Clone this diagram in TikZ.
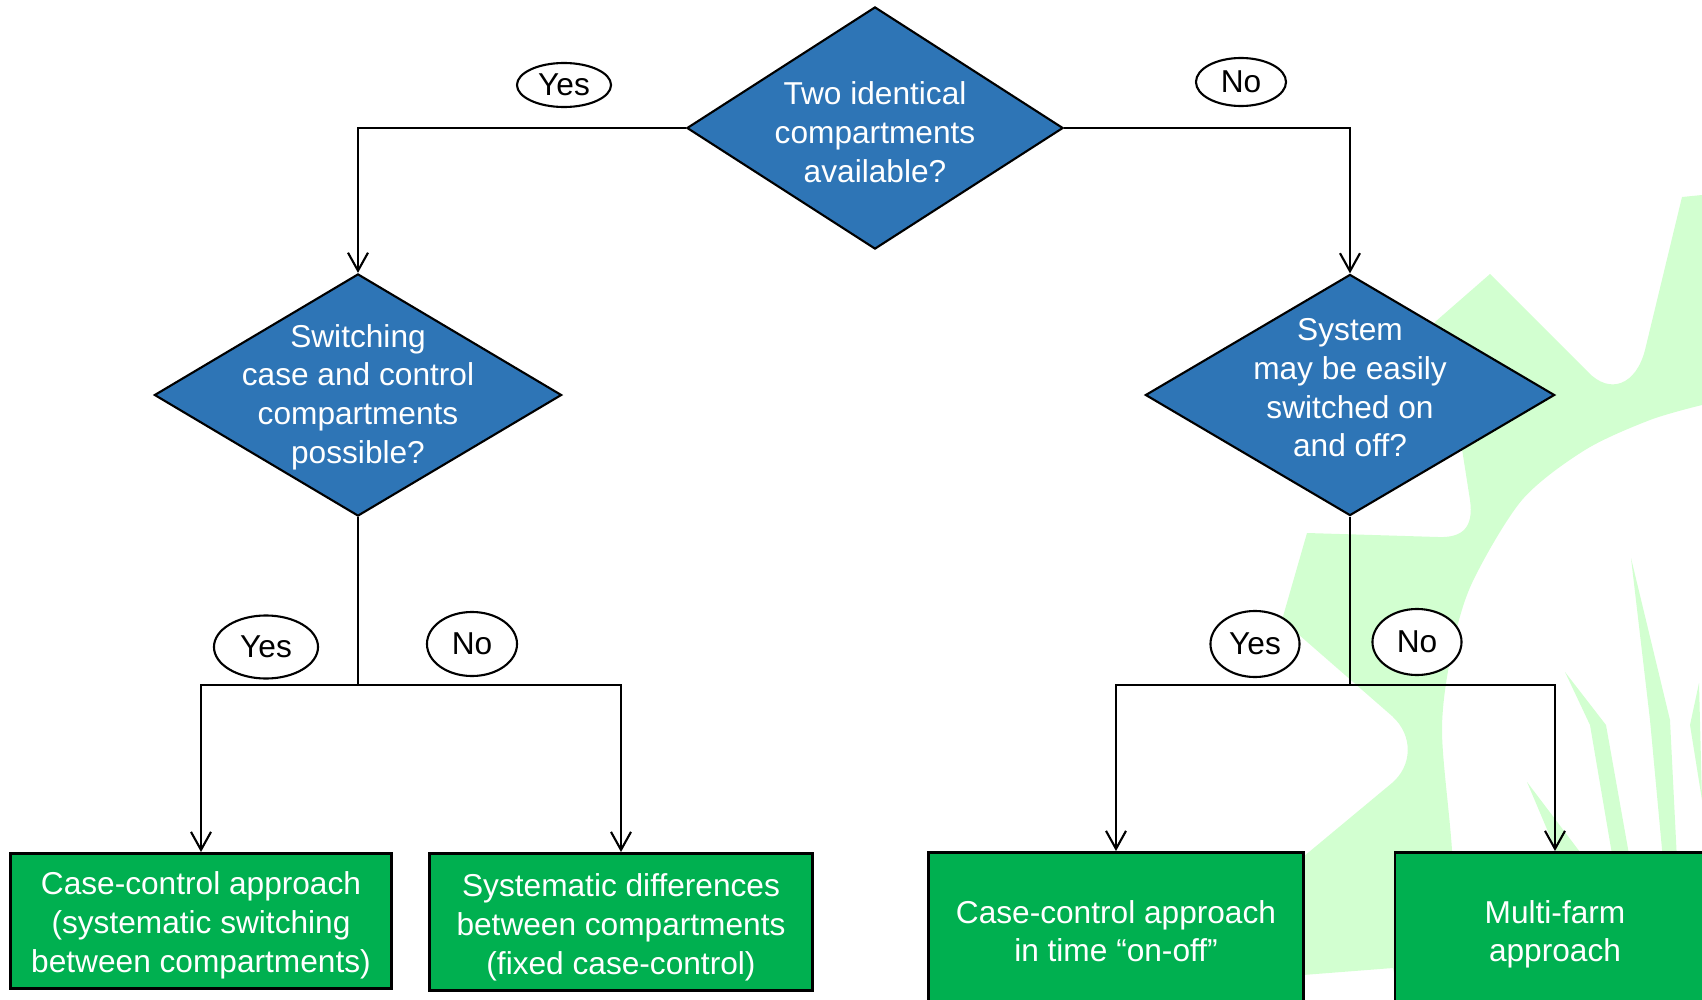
\documentclass[tikz,border=0pt]{standalone}
\usepackage{fontspec}
\setmainfont{Liberation Sans}
\usetikzlibrary{shapes.geometric,arrows.meta}
\definecolor{qblue}{RGB}{46,117,182}
\definecolor{boxgreen}{RGB}{0,176,80}
\definecolor{leafgreen}{RGB}{210,255,208}

\begin{document}
\begin{tikzpicture}[x=0.01cm,y=-0.01cm,
    every node/.style={font=\fontsize{9pt}{11pt}\selectfont},
    question/.style={diamond,draw,line width=0.6pt,fill=qblue,inner sep=0pt},
    qtext/.style={align=center,text=white},
    answer/.style={ellipse,draw,line width=0.6pt,fill=white,inner sep=0pt},
    outcome/.style={rectangle,draw,line width=0.8pt,fill=boxgreen,inner sep=0pt},
    otext/.style={align=center,text=white,yshift=-1.2pt},
    link/.style={line width=0.6pt,-{Straight Barb[length=1.8mm,width=2mm]}},
    plain/.style={line width=0.6pt}]
  \useasboundingbox (0,0) rectangle (1702,1000);

  % faded logo in the background
  \fill[leafgreen] (1702,195) -- (1682,197) -- (1645,350)
    .. controls (1636,385) and (1610,395) .. (1588,372)
    -- (1490,274) -- (1435,322) -- (1400,400) -- (1462,449) -- (1470,500)
    .. controls (1474,528) and (1462,538) .. (1438,537)
    -- (1307,533) -- (1282,620) -- (1392,716)
    .. controls (1414,736) and (1412,766) .. (1392,783)
    -- (1303,857) -- (1303,975) -- (1393,968) -- (1400,1000)
    -- plot[smooth] coordinates {(1460,1000) (1452,850) (1442,730) (1452,650) (1472,583) (1522,500) (1585,450) (1650,420) (1702,405)}
    -- cycle;
  \fill[leafgreen] (1631,558) -- (1650,720) -- (1663,860) -- (1677,860) -- (1670,720) -- cycle;
  \fill[leafgreen] (1565,672) -- (1590,725) -- (1613,860) -- (1630,860) -- (1606,725) -- cycle;
  \fill[leafgreen] (1527,782) -- (1560,860) -- (1586,860) -- cycle;
  \fill[leafgreen] (1699,683) -- (1690,725) -- (1702,800) -- cycle;

  % questions
  \node[question,minimum width=3.76cm,minimum height=2.42cm,
        label={[qtext,yshift=-1.2pt]center:Two identical\\compartments\\available?}] (twoid) at (875,128) {};
  \node[question,minimum width=4.07cm,minimum height=2.42cm,
        label={[qtext,yshift=-0.6pt]center:Switching\\case and control\\compartments\\possible?}] (switchq) at (358,395) {};
  \node[question,minimum width=4.09cm,minimum height=2.41cm,
        label={[qtext,yshift=2pt]center:System\\may be easily\\switched on\\and off?}] (onoffq) at (1350,395) {};

  % outcomes
  \node[outcome,minimum width=3.81cm,minimum height=1.35cm,
        label={[otext]center:Case-control approach\\(systematic switching\\between compartments)}] (ccswitch) at (201,921) {};
  \node[outcome,minimum width=3.82cm,minimum height=1.37cm,
        label={[otext,yshift=-0.3pt]center:Systematic differences\\between compartments\\(fixed case-control)}] (fixedcc) at (621,922) {};
  \node[outcome,minimum width=3.74cm,minimum height=1.55cm,
        label={[otext,yshift=0.9pt]center:Case-control approach\\in time ``on-off''}] (cctime) at (1116,930) {};
  \node[outcome,minimum width=3.20cm,minimum height=1.55cm,
        label={[otext]center:Multi-farm\\approach}] (multifarm) at (1555,930) {};

  \coordinate (lsplit) at (358,685);
  \coordinate (rsplit) at (1350,685);

  \draw[link] (twoid.west) -| (switchq.north);
  \draw[link] (twoid.east) -| (onoffq.north);
  \draw[plain] (switchq.south) -- (lsplit);
  \draw[link] (lsplit) -| (ccswitch.north);
  \draw[link] (lsplit) -| (fixedcc.north);
  \draw[plain] (onoffq.south) -- (rsplit);
  \draw[link] (rsplit) -| (cctime.north);
  \draw[link] (rsplit) -| (multifarm.north);

  % answers
  \node[answer,minimum width=0.94cm,minimum height=0.44cm] (yestop) at (564,85) {Yes};
  \node[answer,minimum width=0.90cm,minimum height=0.48cm] (notop) at (1241,82) {No};
  \node[answer,minimum width=1.04cm,minimum height=0.63cm] (yesleft) at (266,647) {Yes};
  \node[answer,minimum width=0.90cm,minimum height=0.64cm] (noleft) at (472,644) {No};
  \node[answer,minimum width=0.89cm,minimum height=0.66cm] (yesright) at (1255,644) {Yes};
  \node[answer,minimum width=0.89cm,minimum height=0.66cm] (noright) at (1417,642) {No};
\end{tikzpicture}
\end{document}
